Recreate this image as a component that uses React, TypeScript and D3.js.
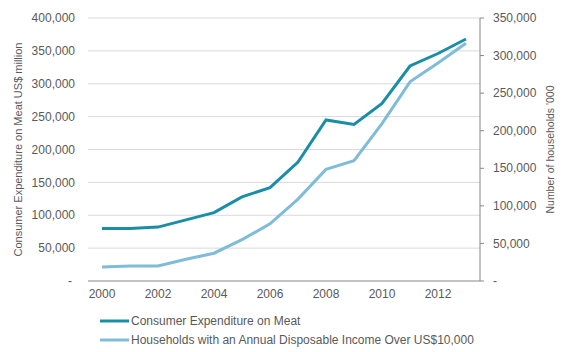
import React from 'react';
import * as d3 from 'd3';

const years = ['2000', '2001', '2002', '2003', '2004', '2005', '2006', '2007', '2008', '2009', '2010', '2011', '2012', '2013'];
const yearLabels = ['2000', '2002', '2004', '2006', '2008', '2010', '2012'];

// consumer expenditure on meat, US$ million (left axis)
const meatSpend = [80000, 80000, 82000, 93000, 104000, 128000, 142000, 181000, 245000, 238000, 270000, 327000, 346000, 368000];
// households over US$10,000 income, '000 (right axis)
const households = [18700, 20000, 20000, 29000, 37000, 55000, 76000, 109000, 148500, 160000, 209500, 265000, 290000, 316500];

const leftTicks = [0, 50000, 100000, 150000, 200000, 250000, 300000, 350000, 400000];
const rightTicks = [0, 50000, 100000, 150000, 200000, 250000, 300000, 350000];

const dark = '#1a8ea6';
const light = '#80bcd8';
const textColor = '#595959';

const App: React.FC = () => {
    const width = 583;
    const height = 352;
    const left = 88, right = 480, top = 18, bottom = 281;

    const x = d3.scaleBand<string>().domain(years).range([left, right]);
    const yL = d3.scaleLinear().domain([0, 400000]).range([bottom, top]);
    const yR = d3.scaleLinear().domain([0, 350000]).range([bottom, top]);

    const fmt = (v: number) => (v === 0 ? '-' : d3.format(',')(v));
    const cx = (yr: string) => (x(yr) || 0) + x.bandwidth() / 2;

    const lineL = d3.line<number>().x((_, i) => cx(years[i])).y(d => yL(d));
    const lineR = d3.line<number>().x((_, i) => cx(years[i])).y(d => yR(d));

    const font = { fontFamily: 'Liberation Sans, Arial, sans-serif', fontSize: 12, fill: textColor };
    const titleFont = { ...font, fontSize: 11 };

    return (
        <svg width={width} height={height} style={{ display: 'block', position: 'absolute', left: 0, top: 0, background: '#fff' }}>
            {/* gridlines */}
            {leftTicks.slice(1).map(t => (
                <line key={'g' + t} x1={left} x2={right} y1={yL(t)} y2={yL(t)} stroke="#d9d9d9" strokeWidth={1} />
            ))}
            {/* left tick labels */}
            {leftTicks.map(t => (
                <text key={'l' + t} x={t === 0 ? 72 : 75} y={yL(t)} dy="0.35em" textAnchor="end" {...font}>{fmt(t)}</text>
            ))}
            {/* right axis */}
            <line x1={right} x2={right} y1={top} y2={bottom} stroke="#868686" />
            {rightTicks.map(t => (
                <g key={'r' + t}>
                    <line x1={right} x2={right + 4} y1={yR(t)} y2={yR(t)} stroke="#868686" />
                    <text x={493} y={yR(t)} dy="0.35em" textAnchor="start" {...font}>{fmt(t)}</text>
                </g>
            ))}
            {/* x axis */}
            <line x1={left} x2={right} y1={bottom} y2={bottom} stroke="#868686" />
            {yearLabels.map(yr => (
                <text key={yr} x={cx(yr)} y={294} dy="0.35em" textAnchor="middle" {...font}>{yr}</text>
            ))}
            {/* axis titles */}
            <text transform={`translate(18,${(top + bottom) / 2}) rotate(-90)`} textAnchor="middle" dy="0.35em" {...titleFont}>
                Consumer Expenditure on Meat US$ million
            </text>
            <text transform={`translate(550,${(top + bottom) / 2}) rotate(-90)`} textAnchor="middle" dy="0.35em" {...titleFont} fontSize={10.5}>
                Number of households '000
            </text>
            {/* series */}
            <path d={lineR(households) || ''} fill="none" stroke={light} strokeWidth={3} />
            <path d={lineL(meatSpend) || ''} fill="none" stroke={dark} strokeWidth={3} />
            {/* legend */}
            <line x1={100} x2={129} y1={321} y2={321} stroke={dark} strokeWidth={3} />
            <text x={131} y={321} dy="0.35em" {...font}>Consumer Expenditure on Meat</text>
            <line x1={100} x2={129} y1={340} y2={340} stroke={light} strokeWidth={3} />
            <text x={131} y={340} dy="0.35em" {...font}>Households with an Annual Disposable Income Over US$10,000</text>
        </svg>
    );
};

export default App;
